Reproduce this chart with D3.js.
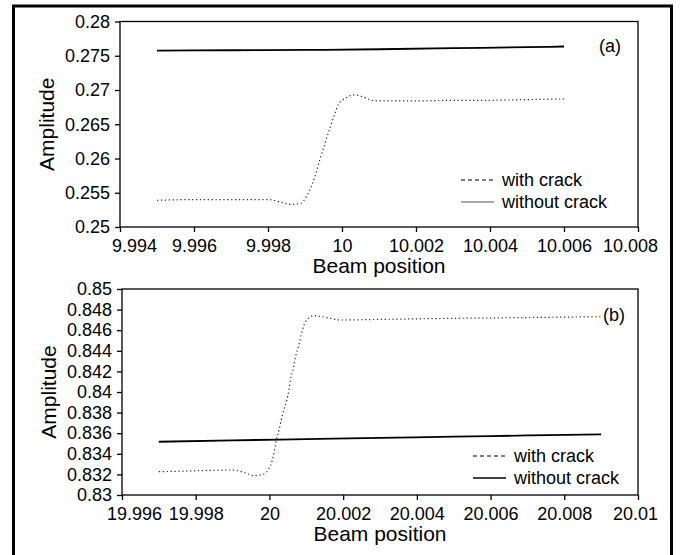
<!DOCTYPE html>
<html>
<head>
<meta charset="utf-8">
<script src="https://cdn.jsdelivr.net/npm/d3@7"></script>
<style>
  html, body { margin: 0; padding: 0; background: #fff; }
  svg text { font-family: "Liberation Sans", Arial, sans-serif; fill: #000; }
</style>
</head>
<body>
<script>
// ---- Panel (a): beam position around 10 ----
const aXTicks = [9.994, 9.996, 9.998, 10, 10.002, 10.004, 10.006, 10.008];
const aYTicks = [0.25, 0.255, 0.26, 0.265, 0.27, 0.275, 0.28];
const aWithoutX = [9.995, 9.997, 9.999, 10.001, 10.003, 10.005, 10.006];
const aWithoutY = [0.27576, 0.27580, 0.27585, 0.27595, 0.27610, 0.27625, 0.27635];
const aWithX = [9.995, 9.996, 9.997, 9.998, 9.9983, 9.99864, 9.99891, 9.9990, 9.99913, 9.99927,
  9.9994, 9.99954, 9.99967, 9.99981, 9.99989, 10.00003, 10.00016, 10.0003, 10.00057, 10.00075,
  10.00093, 10.0012, 10.002, 10.003, 10.004, 10.005, 10.006];
const aWithY = [0.2539, 0.2540, 0.2540, 0.2540, 0.2537, 0.2533, 0.2535, 0.2541, 0.2554, 0.2574,
  0.2598, 0.2622, 0.2644, 0.2666, 0.2678, 0.2686, 0.2690, 0.2693, 0.2690, 0.2686,
  0.2684, 0.2684, 0.2684, 0.2685, 0.2685, 0.2686, 0.2687];

// ---- Panel (b): beam position around 20 ----
const bXTicks = [19.996, 19.998, 20, 20.002, 20.004, 20.006, 20.008, 20.01];
const bYTicks = [0.83, 0.832, 0.834, 0.836, 0.838, 0.84, 0.842, 0.844, 0.846, 0.848, 0.85];
const bWithoutX = [19.997, 19.999, 20.001, 20.003, 20.005, 20.007, 20.009];
const bWithoutY = [0.83517, 0.83530, 0.83543, 0.83555, 0.83566, 0.83578, 0.83589];
const bWithX = [19.997, 19.998, 19.999, 19.9993, 19.99958, 19.99985, 19.99999, 20.00008, 20.00014,
  20.00019, 20.00026, 20.00032, 20.00039, 20.00047, 20.00053, 20.00057, 20.00065, 20.00071,
  20.0008, 20.00086, 20.00098, 20.0012, 20.00166, 20.00193, 20.003, 20.005, 20.007, 20.009];
const bWithY = [0.83226, 0.83235, 0.83243, 0.8322, 0.83187, 0.83204, 0.8326, 0.8334, 0.83437,
  0.83534, 0.8363, 0.83728, 0.83825, 0.83922, 0.8402, 0.84117, 0.8423, 0.84343,
  0.84456, 0.84553, 0.84682, 0.84741, 0.84715, 0.84699, 0.84705, 0.84715, 0.84723, 0.84731];

const seriesNames = ["with crack", "without crack"];

const W = 681, H = 555;
const svg = d3.select("body").append("svg").attr("width", W).attr("height", H);

// outer frame
svg.append("rect")
  .attr("x", 13.5).attr("y", 6).attr("width", 658).attr("height", 560)
  .attr("fill", "none").attr("stroke", "#000").attr("stroke-width", 3);

function panel(cfg) {
  const x = d3.scaleLinear().domain(cfg.xDomain).range([cfg.left, cfg.right]);
  const y = d3.scaleLinear().domain(cfg.yDomain).range([cfg.bottom, cfg.top]);
  const g = svg.append("g");

  // plot box
  g.append("rect")
    .attr("x", cfg.left).attr("y", cfg.top)
    .attr("width", cfg.right - cfg.left).attr("height", cfg.bottom - cfg.top)
    .attr("fill", "none").attr("stroke", "#000").attr("stroke-width", 1.3);

  const xAxis = g.append("g").attr("transform", `translate(0,${cfg.bottom})`)
    .call(d3.axisBottom(x).tickValues(cfg.xTicks).tickSize(5).tickPadding(7)
      .tickFormat(d => cfg.xFmt(d)));
  const yAxis = g.append("g").attr("transform", `translate(${cfg.left},0)`)
    .call(d3.axisLeft(y).tickValues(cfg.yTicks).tickSize(5).tickPadding(5)
      .tickFormat(d => cfg.yFmt(d)));
  [xAxis, yAxis].forEach(a => {
    a.select(".domain").remove();
    a.selectAll(".tick line").attr("stroke", "#000").attr("stroke-width", 1.3);
    a.selectAll("text").attr("font-size", 18).attr("fill", "#000")
      .style("font-family", "'Liberation Sans', Arial, sans-serif");
  });
  // keep end labels inside the panel area
  const xt = xAxis.selectAll(".tick text").nodes();
  d3.select(xt[0]).attr("dx", cfg.firstShift);
  d3.select(xt[xt.length - 1]).attr("dx", cfg.lastShift);

  // series
  const line = d3.line().x(d => x(d[0])).y(d => y(d[1])).curve(d3.curveMonotoneX);
  g.append("path")
    .datum(d3.zip(cfg.withoutX, cfg.withoutY))
    .attr("d", line).attr("fill", "none").attr("stroke", "#000").attr("stroke-width", 1.8);
  g.append("path")
    .datum(d3.zip(cfg.withX, cfg.withY))
    .attr("d", line).attr("fill", "none").attr("stroke", "#333")
    .attr("stroke-width", 1.2).attr("stroke-dasharray", "1.3,2.6");

  // axis titles
  svg.append("text")
    .attr("x", (cfg.left + cfg.right) / 2).attr("y", cfg.bottom + 46)
    .attr("text-anchor", "middle").attr("font-size", 21).text("Beam position");
  svg.append("text")
    .attr("transform", `translate(${cfg.left - 66},${(cfg.top + cfg.bottom) / 2}) rotate(-90)`)
    .attr("text-anchor", "middle").attr("font-size", 21).text("Amplitude");

  // panel tag
  svg.append("text").attr("x", cfg.tagX).attr("y", cfg.tagY)
    .attr("font-size", 18).text(cfg.tag);

  // legend
  const lg = svg.append("g");
  seriesNames.forEach((name, i) => {
    const ly = cfg.legY + i * 22;
    lg.append("line")
      .attr("x1", cfg.legX).attr("x2", cfg.legX + 33)
      .attr("y1", ly).attr("y2", ly)
      .attr("stroke", i === 0 ? "#000" : cfg.legSolid)
      .attr("stroke-width", i === 0 ? 1.2 : cfg.legSolidW)
      .attr("stroke-dasharray", i === 0 ? "4,3" : null);
    lg.append("text").attr("x", cfg.legX + 41).attr("y", ly + 6)
      .attr("font-size", 18).text(name);
  });
}

panel({
  xDomain: [9.994, 10.008], yDomain: [0.25, 0.28],
  left: 120, right: 638, top: 21.5, bottom: 227,
  xTicks: aXTicks, yTicks: aYTicks,
  xFmt: d3.format(""), yFmt: d3.format(""),
  firstShift: 14, lastShift: -8,
  withoutX: aWithoutX, withoutY: aWithoutY, withX: aWithX, withY: aWithY,
  tag: "(a)", tagX: 599, tagY: 52,
  legX: 461, legY: 180, legSolid: "#555", legSolidW: 1
});

panel({
  xDomain: [19.996, 20.01], yDomain: [0.83, 0.85],
  left: 122, right: 638, top: 289, bottom: 495,
  xTicks: bXTicks, yTicks: bYTicks,
  xFmt: d3.format(""), yFmt: d3.format(""),
  firstShift: 12, lastShift: -3,
  withoutX: bWithoutX, withoutY: bWithoutY, withX: bWithX, withY: bWithY,
  tag: "(b)", tagX: 603, tagY: 321,
  legX: 473, legY: 456, legSolid: "#000", legSolidW: 1.6
});
</script>
</body>
</html>
